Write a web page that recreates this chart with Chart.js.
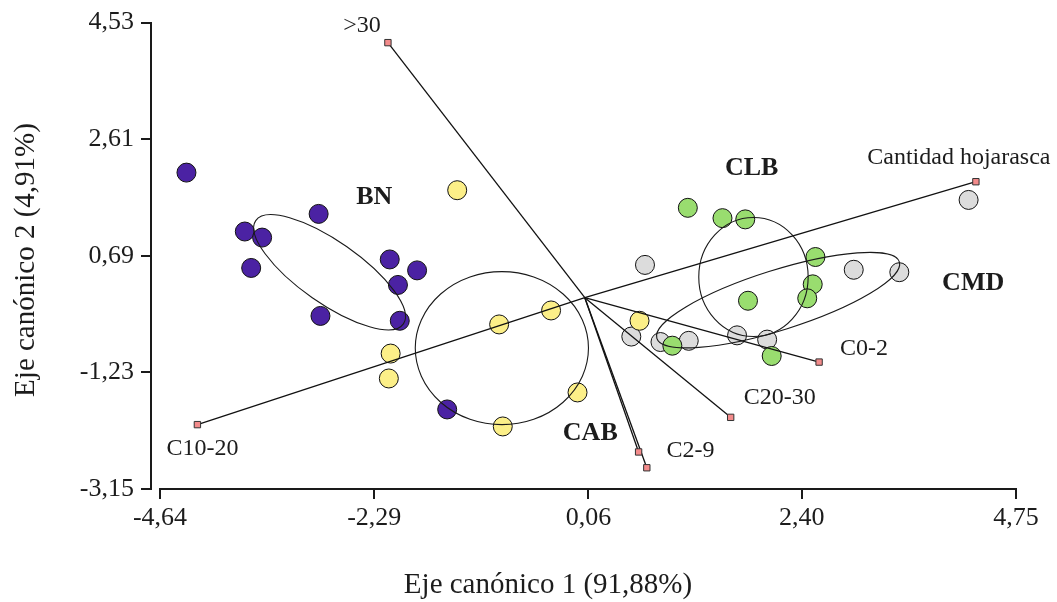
<!DOCTYPE html>
<html><head><meta charset="utf-8">
<script src="https://cdn.jsdelivr.net/npm/chart.js@4/dist/chart.umd.min.js"></script>
<style>html,body{margin:0;padding:0;background:#fff;}canvas{display:block;}</style>
</head><body>
<canvas id="c" width="1057" height="602"></canvas>
<script>
// ---------------- data ----------------
const xTicks = [-4.64, -2.29, 0.06, 2.40, 4.75];
const xTickLabels = ['-4,64', '-2,29', '0,06', '2,40', '4,75'];
const yTicks = [-3.15, -1.23, 0.69, 2.61, 4.53];
const yTickLabels = ['-3,15', '-1,23', '0,69', '2,61', '4,53'];
const xTitle = 'Eje canónico 1 (91,88%)';
const yTitle = 'Eje canónico 2 (4,91%)';

const groupNames = ['BN', 'CAB', 'CLB', 'CMD'];
const bnX = [-4.35, -2.90, -3.71, -3.52, -3.64, -2.12, -1.82, -2.03, -2.88, -2.01, -1.49];
const bnY = [2.06, 1.38, 1.09, 0.99, 0.49, 0.63, 0.45, 0.21, -0.30, -0.38, -1.84];
const cabX = [-1.38, -0.35, -0.92, -2.11, -2.13, -0.06, -0.88, 0.62];
const cabY = [1.77, -0.21, -0.44, -0.92, -1.33, -1.56, -2.12, -0.38];
const clbX = [1.15, 1.53, 1.78, 2.55, 2.52, 2.46, 1.81, 0.98, 2.07];
const clbY = [1.48, 1.31, 1.29, 0.67, 0.22, -0.01, -0.05, -0.79, -0.96];
const cmdX = [0.68, 0.53, 0.85, 1.16, 1.69, 2.02, 4.23, 2.97, 3.47];
const cmdY = [0.54, -0.64, -0.73, -0.71, -0.62, -0.69, 1.61, 0.46, 0.42];

const vectorNames = ['>30', 'Cantidad hojarasca', 'C10-20', 'C0-2', 'C20-30', 'C2-9', ''];
const vectorX = [-2.14, 4.31, -4.23, 2.59, 1.62, 0.61, 0.70];
const vectorY = [4.20, 1.91, -2.09, -1.06, -1.97, -2.54, -2.80];
const vectorOriginX = 0.02;
const vectorOriginY = 0.00;

// group ellipses (data units): centre and two conjugate semi-axes
const ellipseCX = [-2.78, -0.89, 1.87, 2.14];
const ellipseCY = [0.42, -0.83, 0.34, -0.04];
const ellipseUX = [0.81, 0.95, 0.60, 1.33];
const ellipseUY = [-0.85, 0.00, 0.00, 0.63];
const ellipseVX = [-0.19, 0.00, 0.00, 0.10];
const ellipseVY = [-0.42, 1.26, 0.98, -0.47];
// group label anchors (data units)
const groupLabelX = [-2.29, 0.08, 1.85, 4.28];
const groupLabelY = [1.65, -2.24, 2.13, 0.24];

// ---------------- style ----------------
const FONT = "'Liberation Serif', 'Times New Roman', serif";
const TEXT = '#1c1c1c';
const groupColors = ['#4b22a3', '#fcef88', '#99dd6f', '#dcdcdc'];
const groupOrder = [4, 3, 2, 5];
const vectorLabelOffset = [[-26, -17], [-17, -24], [5, 24], [45, -13], [49, -20], [52, -1], [0, 0]];

const pts = (xs, ys) => xs.map((v, i) => ({x: v, y: ys[i]}));
const groupData = [pts(bnX, bnY), pts(cabX, cabY), pts(clbX, clbY), pts(cmdX, cmdY)];

const datasets = [];
groupNames.forEach((g, i) => {
  datasets.push({
    label: g, data: groupData[i], order: groupOrder[i],
    backgroundColor: groupColors[i], borderColor: '#111', borderWidth: 1,
    pointRadius: 9.5, pointHoverRadius: 9.5, clip: false
  });
});
vectorNames.forEach((n, i) => {
  datasets.push({
    label: n || 'v' + i, order: 0, showLine: true,
    data: [{x: vectorOriginX, y: vectorOriginY}, {x: vectorX[i], y: vectorY[i]}],
    borderColor: '#111', borderWidth: 1.3,
    pointStyle: 'rect', pointRadius: [0, 4.5], pointHoverRadius: [0, 4.5],
    pointBackgroundColor: '#f38b8b', pointBorderColor: '#333', pointBorderWidth: 1, clip: false
  });
});

const overlay = {
  id: 'overlay',
  afterDatasetsDraw(chart) {
    const {ctx, scales: {x, y}} = chart;
    ctx.save();
    ctx.strokeStyle = '#1a1a1a';
    ctx.lineWidth = 1.1;
    for (let i = 0; i < groupNames.length; i++) {
      const cx = x.getPixelForValue(ellipseCX[i]), cy = y.getPixelForValue(ellipseCY[i]);
      const ux = x.getPixelForValue(ellipseCX[i] + ellipseUX[i]) - cx;
      const uy = y.getPixelForValue(ellipseCY[i] + ellipseUY[i]) - cy;
      const vx = x.getPixelForValue(ellipseCX[i] + ellipseVX[i]) - cx;
      const vy = y.getPixelForValue(ellipseCY[i] + ellipseVY[i]) - cy;
      ctx.beginPath();
      ctx.save();
      ctx.transform(ux, uy, vx, vy, cx, cy);
      ctx.arc(0, 0, 1, 0, Math.PI * 2);
      ctx.restore();
      ctx.stroke();
    }
    ctx.restore();
  },
  afterDraw(chart) {
    const {ctx, scales: {x, y}, chartArea} = chart;
    ctx.save();
    // x axis line (starts at first tick, offset from the y axis)
    ctx.strokeStyle = '#1a1a1a';
    ctx.lineWidth = 2;
    ctx.beginPath();
    ctx.moveTo(x.getPixelForValue(xTicks[0]) - 1, chartArea.bottom);
    ctx.lineTo(x.getPixelForValue(xTicks[xTicks.length - 1]) + 1, chartArea.bottom);
    ctx.stroke();
    ctx.fillStyle = TEXT;
    ctx.textAlign = 'center';
    ctx.textBaseline = 'middle';
    // vector labels
    ctx.font = '24px ' + FONT;
    vectorNames.forEach((n, i) => {
      if (!n) return;
      ctx.fillText(n, x.getPixelForValue(vectorX[i]) + vectorLabelOffset[i][0],
                      y.getPixelForValue(vectorY[i]) + vectorLabelOffset[i][1]);
    });
    // group labels
    ctx.font = 'bold 26px ' + FONT;
    groupNames.forEach((g, i) => {
      ctx.fillText(g, x.getPixelForValue(groupLabelX[i]), y.getPixelForValue(groupLabelY[i]));
    });
    // axis titles
    ctx.font = '29px ' + FONT;
    ctx.fillText(xTitle, 548, 585);
    ctx.translate(26, 260);
    ctx.rotate(-Math.PI / 2);
    ctx.fillText(yTitle, 0, 0);
    ctx.restore();
  }
};

new Chart(document.getElementById('c'), {
  type: 'scatter',
  data: {datasets},
  plugins: [overlay],
  options: {
    responsive: false,
    animation: false,
    events: [],
    layout: {padding: {top: 22, right: 41, left: 0, bottom: 0}},
    plugins: {legend: {display: false}, tooltip: {enabled: false}},
    scales: {
      x: {
        type: 'linear', min: -4.739, max: xTicks[xTicks.length - 1],
        afterBuildTicks: s => { s.ticks = xTicks.map(v => ({value: v})); },
        afterFit: s => { s.height = 113; },
        grid: {drawOnChartArea: false, drawTicks: true, tickLength: 10, color: '#1a1a1a', lineWidth: 2},
        border: {display: false},
        ticks: {autoSkip: false, maxRotation: 0, padding: 4, color: TEXT,
                font: {family: FONT, size: 26},
                callback: (v, i) => xTickLabels[i]}
      },
      y: {
        type: 'linear', min: yTicks[0], max: yTicks[yTicks.length - 1],
        afterBuildTicks: s => { s.ticks = yTicks.map(v => ({value: v})); },
        afterFit: s => { s.width = 151; },
        grid: {drawOnChartArea: false, drawTicks: true, tickLength: 10, color: '#1a1a1a', lineWidth: 2},
        border: {display: true, color: '#1a1a1a', width: 2},
        ticks: {autoSkip: false, padding: 7, color: TEXT,
                font: {family: FONT, size: 26},
                callback: (v, i) => yTickLabels[i]}
      }
    }
  }
});
</script>
</body></html>
